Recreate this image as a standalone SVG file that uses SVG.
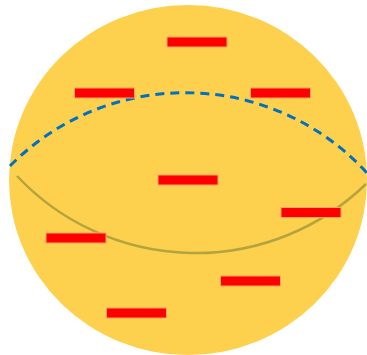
<svg xmlns="http://www.w3.org/2000/svg" width="367" height="355" viewBox="0 0 367 355">
<style>
.bar{fill:#FF0000;stroke:#F8A65A;stroke-width:1}
</style>
<rect width="367" height="355" fill="#FFFFFF"/>
<g id="disc"><ellipse cx="188" cy="180" rx="179" ry="175" fill="#FDD14D"/></g>
<g id="connectors" fill="none">
<path d="M 10 166 A 246 246 0 0 1 367 173" stroke="#0070C0" stroke-width="3" stroke-dasharray="9 6"/>
<path d="M 17 176 A 245 245 0 0 0 366 184" stroke="#B3A43E" stroke-width="2.5"/>
</g>
<g id="n1"><rect class="bar" x="167" y="37" width="60" height="10"/></g>
<g id="n2"><rect class="bar" x="74.5" y="88" width="60" height="10"/></g>
<g id="n3"><rect class="bar" x="250.5" y="88" width="60" height="10"/></g>
<g id="n4"><rect class="bar" x="158" y="175" width="60" height="10"/></g>
<g id="n5"><rect class="bar" x="281" y="207.5" width="60" height="10"/></g>
<g id="n6"><rect class="bar" x="46" y="233" width="60" height="10"/></g>
<g id="n7"><rect class="bar" x="220.5" y="276" width="60" height="10"/></g>
<g id="n8"><rect class="bar" x="106.5" y="308" width="60" height="10"/></g>
</svg>
